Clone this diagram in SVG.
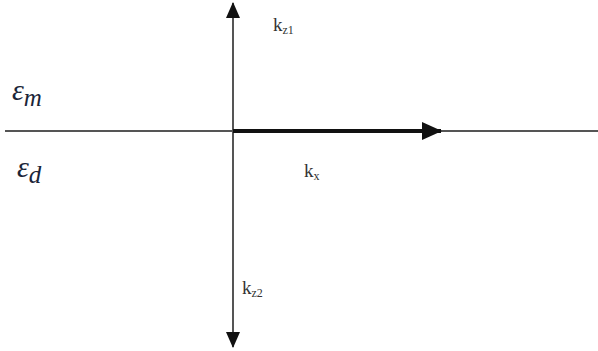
<svg xmlns="http://www.w3.org/2000/svg" width="598" height="351" viewBox="0 0 598 351">
<style>
.ax{stroke:#555;stroke-width:2;fill:none}
.lbl{font-family:"Liberation Serif",serif;font-size:19px;fill:#333}
.sub{font-size:12px}
.eps{font-family:"Liberation Serif",serif;font-style:italic;font-size:30px;fill:#1a2538}
</style>
<defs>
<marker id="ahb" markerWidth="20" markerHeight="20" refX="19" refY="10" orient="auto" markerUnits="userSpaceOnUse" viewBox="0 0 20 20"><path d="M0,1 L20,10 L0,19 z" fill="#111"/></marker>
<marker id="ahv" markerWidth="16" markerHeight="16" refX="15" refY="8" orient="auto" markerUnits="userSpaceOnUse" viewBox="0 0 16 16"><path d="M0,1 L16,8 L0,15 z" fill="#111"/></marker>
</defs>
<g id="connectors">
<line class="ax" x1="5" y1="131" x2="598" y2="131"/>
<line class="ax" x1="233" y1="131" x2="233" y2="3" marker-end="url(#ahv)"/>
<line class="ax" x1="233" y1="131" x2="233" y2="347" marker-end="url(#ahv)"/>
<line x1="233" y1="131" x2="441" y2="131" stroke="#111" stroke-width="4" marker-end="url(#ahb)"/>
</g>
<g id="eps-m"><text class="eps" x="12" y="100">ε<tspan font-size="25" dy="6">m</tspan></text></g>
<g id="eps-d"><text class="eps" x="17" y="177">ε<tspan font-size="25" dy="6">d</tspan></text></g>
<g id="kz1"><text class="lbl" x="273" y="31">k<tspan class="sub" dy="3">z1</tspan></text></g>
<g id="kx"><text class="lbl" x="304" y="177">k<tspan class="sub" dy="3">x</tspan></text></g>
<g id="kz2"><text class="lbl" x="242" y="294">k<tspan class="sub" dy="3">z2</tspan></text></g>
</svg>
